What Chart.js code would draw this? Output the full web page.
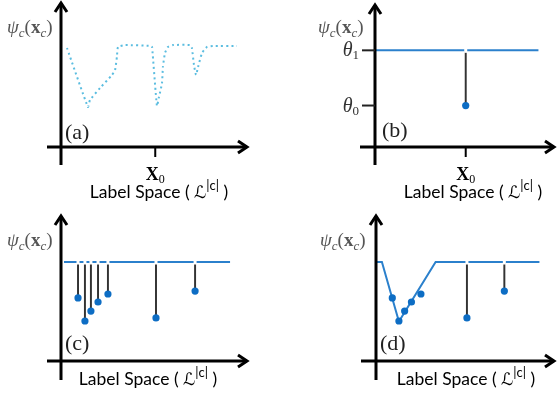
<!DOCTYPE html>
<html>
<head>
<meta charset="utf-8">
<script src="https://cdn.jsdelivr.net/npm/chart.js@4.4.0/dist/chart.umd.min.js"></script>
<style>
  html, body { margin: 0; padding: 0; background: #fff; }
  #wrap { position: relative; width: 559px; height: 397px; overflow: hidden; }
  canvas { position: absolute; }
</style>
</head>
<body>
<div id="wrap">
  <canvas id="chartA" width="280" height="208" style="left:0;top:0"></canvas>
  <canvas id="chartB" width="279" height="208" style="left:280px;top:0"></canvas>
  <canvas id="chartC" width="280" height="197" style="left:0;top:200px"></canvas>
  <canvas id="chartD" width="279" height="197" style="left:280px;top:200px"></canvas>
</div>
<script>
// label space runs 0..100 on x, potential 0..100 on y (arbitrary units)

// (a) dotted potential curve
var curveX = [3.2, 14.4, 15.5, 20.9, 27.3, 28.9, 29.9, 30.5, 34.2, 48.1, 48.7, 51.3, 52.4, 54.0, 54.5, 55.6, 57.2, 59.9, 69.0, 70.0, 71.1, 72.2, 73.3, 75.4, 78.1, 81.3, 94.1];
var curveY = [68.3, 27.6, 32.4, 40.7, 49.7, 53.1, 62.1, 69.0, 70.3, 69.7, 69.0, 28.3, 34.5, 44.0, 55.2, 64.8, 69.0, 70.3, 70.3, 68.3, 56.6, 49.7, 55.2, 64.8, 69.0, 69.7, 69.7];

// (b) Potts-like: theta1 everywhere except x0
var x0 = 50.4;
var theta1 = 67.6;
var theta0 = 29.0;
var flatEnd = 90.8;

// (c)/(d) sparse labels with their own costs
var stemX = [9.1, 12.8, 16.0, 19.8, 25.1, 50.8, 71.7];
var stemY = [43.2, 27.4, 34.2, 40.4, 45.9, 29.5, 47.9];
var levelY = 67.8;
var levelEnd = 90.4;

// (d) lower envelope over the first group of labels
var envX = [0.5, 3.3, 12.8, 33.3, 91.3];
var envY = [67.8, 67.8, 27.0, 67.8, 67.8];
var envStems = [5, 6];

var BLUE = '#2b80cc';
var DOT = '#0d6dc4';
var STEM = '#333333';
var SERIF = '"Liberation Serif", "DejaVu Serif", serif';
var SANS = 'Lato, "Open Sans", sans-serif';

function rich(ctx, x, y, parts, align) {
  var w = 0;
  parts.forEach(function (p) { ctx.font = p[1]; w += ctx.measureText(p[0]).width; });
  var cx = x;
  if (align === 'center') cx = x - w / 2;
  if (align === 'right') cx = x - w;
  parts.forEach(function (p) {
    ctx.font = p[1];
    ctx.fillText(p[0], cx, y + (p[2] || 0));
    cx += ctx.measureText(p[0]).width;
  });
}

function psiParts() {
  return [
    ['ψ', 'italic 19px ' + SERIF],
    ['c', 'italic 13px ' + SERIF, 4],
    ['(', '19px ' + SERIF],
    ['x', 'bold 19px ' + SERIF],
    ['c', 'italic 13px ' + SERIF, 4],
    [')', '19px ' + SERIF]
  ];
}

function spaceParts() {
  return [
    ['Label Space ( ', '17.5px ' + SANS],
    ['ℒ', 'italic 17px "DejaVu Sans", sans-serif'],
    ['|c|', '13px ' + SANS, -8],
    [' )', '17.5px ' + SANS]
  ];
}

var diagramPlugin = {
  id: 'diagram',
  afterDatasetDraw: function (chart, args, opts) {
    var ds = chart.data.datasets[args.index];
    if (ds.type !== 'line' || !opts.gaps) return;
    var ctx = chart.ctx;
    var xs = chart.scales.x, ys = chart.scales.y;
    ctx.save();
    ctx.fillStyle = '#fff';
    opts.gaps.forEach(function (g) {
      var px = xs.getPixelForValue(g);
      var py = ys.getPixelForValue(opts.gapLevel);
      ctx.fillRect(px - 1.5, py - 2.5, 3, 5);
    });
    ctx.restore();
  },
  afterDraw: function (chart, args, opts) {
    var ctx = chart.ctx;
    var a = chart.chartArea;
    var xs = chart.scales.x, ys = chart.scales.y;
    ctx.save();
    ctx.strokeStyle = '#000';
    ctx.lineWidth = 3;
    ctx.lineCap = 'butt';
    ctx.beginPath();
    ctx.moveTo(a.left, a.top + 1);
    ctx.lineTo(a.left, a.bottom + opts.yExt);
    ctx.moveTo(a.left - opts.xStart, a.bottom);
    ctx.lineTo(a.right - 1, a.bottom);
    ctx.stroke();
    // arrow heads
    ctx.beginPath();
    ctx.moveTo(a.left - 6, a.top + 10);
    ctx.lineTo(a.left, a.top + 1);
    ctx.lineTo(a.left + 6, a.top + 10);
    ctx.moveTo(a.right - 10, a.bottom - 6);
    ctx.lineTo(a.right - 1, a.bottom);
    ctx.lineTo(a.right - 10, a.bottom + 6);
    ctx.stroke();

    ctx.fillStyle = '#000';
    ctx.textBaseline = 'alphabetic';
    ctx.lineWidth = 2;
    if (opts.xTick != null) {
      var tx = xs.getPixelForValue(opts.xTick);
      ctx.beginPath();
      ctx.moveTo(tx, a.bottom);
      ctx.lineTo(tx, a.bottom + 10);
      ctx.stroke();
      rich(ctx, tx, a.bottom + 33, [
        ['X', 'bold 18px ' + SERIF],
        ['0', '12px ' + SERIF, 3]
      ], 'center');
    }
    if (opts.yTicks) {
      opts.yTicks.forEach(function (t) {
        var ty = ys.getPixelForValue(t.value);
        ctx.strokeStyle = '#222';
        ctx.beginPath();
        ctx.moveTo(a.left - 13, ty);
        ctx.lineTo(a.left, ty);
        ctx.stroke();
        ctx.fillStyle = '#333';
        rich(ctx, a.left - 16, ty + 6, [
          ['θ', 'italic 20px ' + SERIF],
          [t.sub, '13px ' + SERIF, 3]
        ], 'right');
      });
    }
    ctx.fillStyle = '#555';
    rich(ctx, opts.psi[0], opts.psi[1], psiParts(), 'left');
    ctx.fillStyle = '#222';
    ctx.font = '22px ' + SERIF;
    ctx.fillText(opts.tag, opts.tagPos[0], opts.tagPos[1]);
    ctx.fillStyle = '#000';
    rich(ctx, opts.labelCx, opts.labelY, spaceParts(), 'center');
    ctx.restore();
  }
};

function points(xs, ys) {
  return xs.map(function (x, i) { return { x: x, y: ys[i] }; });
}

function baseOptions(pad, diagram) {
  return {
    responsive: false,
    animation: false,
    events: [],
    layout: { padding: pad },
    plugins: { legend: { display: false }, tooltip: { enabled: false }, diagram: diagram },
    scales: {
      x: { type: 'linear', min: 0, max: 100, display: false, offset: false },
      y: { type: 'linear', min: 0, max: 100, display: false }
    }
  };
}

function dotSet(xs, ys) {
  return {
    type: 'scatter', data: points(xs, ys),
    pointRadius: 3.6, pointBackgroundColor: DOT, pointBorderWidth: 0
  };
}

function stemSet(xs, ys, top) {
  return {
    type: 'bar',
    data: xs.map(function (x, i) { return { x: x, y: [ys[i], top] }; }),
    backgroundColor: STEM, barThickness: 1.3, borderWidth: 0
  };
}

function levelSet(data) {
  return {
    type: 'line', data: data, borderColor: BLUE, borderWidth: 2,
    pointRadius: 0, tension: 0, fill: false
  };
}

// (a)
new Chart(document.getElementById('chartA'), {
  type: 'scatter',
  data: {
    datasets: [{
      type: 'line', data: points(curveX, curveY),
      borderColor: '#5bbde0', borderWidth: 2, borderDash: [2, 3.2],
      pointRadius: 0, tension: 0.15, fill: false
    }]
  },
  options: baseOptions({ left: 61, right: 32, top: 2, bottom: 61 }, {
    yExt: 18, xStart: 14, xTick: x0, tag: '(a)', tagPos: [65, 139],
    psi: [7, 33], labelCx: 159, labelY: 198
  }),
  plugins: [diagramPlugin]
});

// (b)
new Chart(document.getElementById('chartB'), {
  type: 'scatter',
  data: {
    datasets: [
      dotSet([x0], [theta0]),
      levelSet([{ x: 0, y: theta1 }, { x: flatEnd, y: theta1 }]),
      stemSet([x0], [theta0], theta1)
    ]
  },
  options: baseOptions({ left: 95, right: 0, top: 2, bottom: 61 }, {
    yExt: 18, xStart: 15, xTick: x0, tag: '(b)', tagPos: [102, 137],
    yTicks: [{ value: theta1, sub: '1' }, { value: theta0, sub: '0' }],
    gaps: [x0], gapLevel: theta1,
    psi: [38, 33], labelCx: 193, labelY: 198
  }),
  plugins: [diagramPlugin]
});

// (c)
new Chart(document.getElementById('chartC'), {
  type: 'scatter',
  data: {
    datasets: [
      dotSet(stemX, stemY),
      levelSet([{ x: 1.6, y: levelY }, { x: levelEnd, y: levelY }]),
      stemSet(stemX, stemY, levelY)
    ]
  },
  options: baseOptions({ left: 61, right: 32, top: 15, bottom: 36 }, {
    yExt: 19, xStart: 14, tag: '(c)', tagPos: [65, 150],
    gaps: stemX, gapLevel: levelY,
    psi: [7, 46], labelCx: 148, labelY: 185
  }),
  plugins: [diagramPlugin]
});

// (d)
new Chart(document.getElementById('chartD'), {
  type: 'scatter',
  data: {
    datasets: [
      dotSet(stemX, stemY),
      levelSet(points(envX, envY)),
      stemSet(envStems.map(function (i) { return stemX[i]; }),
              envStems.map(function (i) { return stemY[i]; }), levelY)
    ]
  },
  options: baseOptions({ left: 96, right: 0, top: 15, bottom: 36 }, {
    yExt: 19, xStart: 15, tag: '(d)', tagPos: [100, 150],
    gaps: envStems.map(function (i) { return stemX[i]; }), gapLevel: levelY,
    psi: [40, 46], labelCx: 186, labelY: 185
  }),
  plugins: [diagramPlugin]
});
</script>
</body>
</html>
